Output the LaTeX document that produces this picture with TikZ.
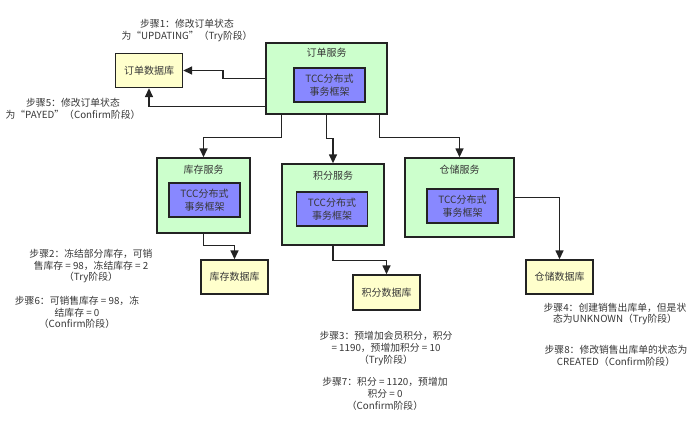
\documentclass[tikz,border=0pt]{standalone}
\usepackage{fontspec}
\setmainfont{Noto Sans CJK SC}
\usetikzlibrary{arrows.meta,positioning,calc}
\definecolor{svcgreen}{RGB}{204,255,204}
\definecolor{tccblue}{RGB}{136,136,255}
\definecolor{dbyellow}{RGB}{255,255,204}
\definecolor{txt}{RGB}{55,55,55}
\definecolor{linecol}{RGB}{35,35,35}
\begin{document}
\begin{tikzpicture}[x=1pt,y=-1pt,
  svc/.style={draw=linecol,line width=1.4pt,fill=svcgreen,minimum width=#1,inner sep=0pt},
  tcc/.style={draw=linecol,line width=1.4pt,fill=tccblue,minimum width=71pt,minimum height=34pt,inner sep=0pt,align=center,font=\fontsize{10pt}{12.5pt}\selectfont,text=txt},
  db/.style={draw=linecol,line width=1.4pt,fill=dbyellow,minimum width=67pt,minimum height=34pt,inner sep=0pt,font=\fontsize{10pt}{12pt}\selectfont,text=txt},
  ttl/.style={font=\fontsize{10pt}{12pt}\selectfont,text=txt,inner sep=0pt},
  note/.style={font=\fontsize{9.8pt}{11.8pt}\selectfont,text=txt,align=center,inner sep=0pt},
  arr/.style={draw=linecol,line width=1.5pt,-{Triangle[length=9pt,width=8pt]}}]
\useasboundingbox (0,0) rectangle (700,431);
% order service
\node[svc=121pt,minimum height=71pt] (order) at (326.5,78.5) {};
\node[ttl] (orderT) at (326.5,53) {订单服务};
\node[tcc] (orderC) at (329.5,85) {TCC分布式\\事务框架};
\node[db] (odb) at (149,70.5) {订单数据库};
% stock
\node[svc=93pt,minimum height=75pt] (stock) at (203.5,195.5) {};
\node[ttl] (stockT) at (203.5,170) {库存服务};
\node[tcc] (stockC) at (204.5,200) {TCC分布式\\事务框架};
\node[db] (sdb) at (234.5,277) {库存数据库};
% points
\node[svc=102pt,minimum height=81pt] (points) at (333,204.5) {};
\node[ttl] (pointsT) at (333,176) {积分服务};
\node[tcc] (pointsC) at (332,209) {TCC分布式\\事务框架};
\node[db,minimum height=35pt] (pdb) at (386.5,292.5) {积分数据库};
% warehouse
\node[svc=109pt,minimum height=79pt] (wh) at (459.5,197.5) {};
\node[ttl] (whT) at (459.5,170) {仓储服务};
\node[tcc] (whC) at (462.5,206) {TCC分布式\\事务框架};
\node[db] (wdb) at (559.5,277) {仓储数据库};
% connectors
\draw[arr] (order.west) -- (223,78.5) |- (odb.east);
\draw[arr] ([yshift=8pt]order.south west) -| (odb.south);
\draw[arr] ([xshift=16pt]order.south west) -- ++(0,23) -| (stock.north);
\draw[arr] ([xshift=61pt]order.south west) -- ++(0,24) -| (points.north);
\draw[arr] ([xshift=-8pt]order.south east) -- ++(0,23) -| (wh.north);
\draw[arr] (stock.south) -- ++(0,12) -| (sdb.north);
\draw[arr] (points.south) -- ++(0,15) -| (pdb.north);
\draw[arr] (wh.east) -| (wdb.north);
% notes
\node[note] (n1) at (187,30.5) {步骤1：修改订单状态\\为“UPDATING”（Try阶段）};
\node[note] (n5) at (73,108.5) {步骤5：修改订单状态\\为“PAYED”（Confirm阶段）};
\node[note] (n2) at (91,266) {步骤2：冻结部分库存，可销\\售库存 = 98，冻结库存 = 2\\（Try阶段）};
\node[note] (n6) at (77,312.5) {步骤6：可销售库存 = 98，冻\\结库存 = 0\\（Confirm阶段）};
\node[note] (n3) at (386,348.5) {步骤3：预增加会员积分，积分\\= 1190，预增加积分 = 10\\（Try阶段）};
\node[note] (n7) at (385,394) {步骤7：积分 = 1120，预增加\\积分 = 0\\（Confirm阶段）};
\node[note] (n4) at (615,314) {步骤4：创建销售出库单，但是状\\态为UNKNOWN（Try阶段）};
\node[note] (n8) at (616,355.5) {步骤8：修改销售出库单的状态为\\CREATED（Confirm阶段）};
\end{tikzpicture}
\end{document}
